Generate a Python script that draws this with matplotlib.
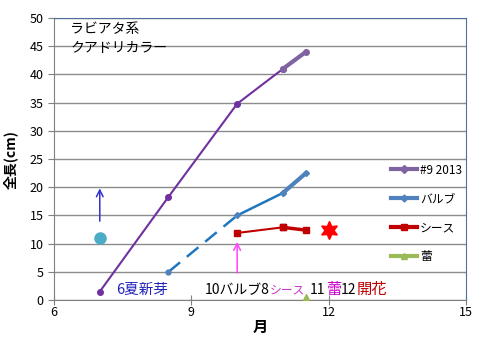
import matplotlib
matplotlib.use("Agg")
import matplotlib.pyplot as plt
from matplotlib.lines import Line2D

plt.rcParams['font.family'] = ['Noto Sans CJK JP', 'DejaVu Sans']

# data
month_total = [7.0, 8.5, 10.0, 11.0, 11.5]
total_len = [1.5, 18.3, 34.8, 41.0, 44.0]
month_bulb = [8.5, 10.0, 11.0, 11.5]
bulb_len = [5.0, 15.0, 19.0, 22.5]
month_sheath = [10.0, 11.0, 11.5]
sheath_len = [11.9, 12.9, 12.4]
month_bud = [11.5]
bud_len = [0.5]
flower_month, flower_val = 12.0, 12.4
newshoot_month, newshoot_val = 7.0, 11.0
xticks = [6, 9, 12, 15]
yticks = list(range(0, 51, 5))

c_total = '#7030A0'
c_total_l = '#8064A2'
c_bulb = '#1F77C0'
c_bulb_l = '#4F81BD'
c_sheath = '#C00000'
c_bud = '#9BBB59'

fig = plt.figure(figsize=(4.82, 3.41), dpi=100)
ax = fig.add_axes([0.112, 0.12, 0.855, 0.827])
ax.set_xlim(6, 15)
ax.set_ylim(0, 50)
ax.set_xticks(xticks)
ax.set_yticks(yticks)
ax.yaxis.grid(True, color='#8c8c8c', linewidth=1)
ax.set_axisbelow(True)
for s in ['top', 'right']:
    ax.spines[s].set_color('#4F6F9F')
for s in ['left', 'bottom']:
    ax.spines[s].set_color('#808080')
ax.tick_params(labelsize=9, length=4, color='#808080', direction='out')
ax.tick_params(axis='x', direction='inout', length=7, pad=1)

# total length series
ax.plot(month_total[:-1], total_len[:-1], color=c_total, lw=1.5, marker='o', ms=4, zorder=3)
ax.plot(month_total[-2:], total_len[-2:], color=c_total_l, lw=3, marker='o', ms=4, zorder=3)

# bulb series
ax.plot(month_bulb[:2], bulb_len[:2], color=c_bulb, lw=1.8, dashes=(6, 3.5), zorder=3)
ax.plot(month_bulb[:1], bulb_len[:1], color=c_bulb_l, marker='o', ms=3.5, ls='none', zorder=3)
ax.plot(month_bulb[1:3], bulb_len[1:3], color=c_bulb, lw=1.8, marker='D', ms=3, mfc=c_bulb_l, mec=c_bulb_l, zorder=3)
ax.plot(month_bulb[2:], bulb_len[2:], color=c_bulb_l, lw=3, marker='D', ms=3, zorder=3)

# sheath series
ax.plot(month_sheath[:2], sheath_len[:2], color=c_sheath, lw=1.5, marker='s', ms=4.5, zorder=3)
ax.plot(month_sheath[1:], sheath_len[1:], color=c_sheath, lw=2.5, marker='s', ms=4.5, zorder=3)

# bud
ax.plot(month_bud, bud_len, color=c_bud, marker='^', ms=5, ls='none', zorder=3)

# flower star
ax.plot([flower_month], [flower_val], marker=(6, 1, 0), ms=13, color='#FF0000', ls='none', zorder=4)

# new shoot circle
ax.plot([newshoot_month], [newshoot_val], marker='o', ms=8, color='#4BACC6', ls='none', zorder=4)

# arrows
ax.annotate('', xy=(7.0, 20.3), xytext=(7.0, 13.5),
            arrowprops=dict(arrowstyle='->', color='#3333CC', lw=1.1, mutation_scale=12))
ax.annotate('', xy=(10.0, 10.8), xytext=(10.0, 4.3),
            arrowprops=dict(arrowstyle='->', color='#FF44FF', lw=1.1, mutation_scale=12))

# texts
ax.text(0.04, 0.985, 'ラビアタ系\nクアドリカラー', transform=ax.transAxes, ha='left', va='top',
        fontsize=10, linespacing=1.45)

ty = 1.8
t = ax.text(7.35, ty, '6夏新芽', color='#2222BB', fontsize=10.5, va='center', ha='left')
fig.canvas.draw()
r = fig.canvas.get_renderer()

def after(prev, s, color, size, gap=0.0):
    bb = prev.get_window_extent(r)
    x = ax.transData.inverted().transform((bb.x1 + gap, 0))[0]
    tt = ax.text(x, ty, s, color=color, fontsize=size, va='center', ha='left')
    fig.canvas.draw()
    return tt

t2 = ax.text(9.30, ty, '10バルブ8', color='black', fontsize=10, va='center', ha='left')
fig.canvas.draw()
t3 = after(t2, 'シース', '#CC33CC', 8.5)
t4 = after(t3, '11', 'black', 10, gap=5)
t5 = after(t4, '蕾', '#CC00CC', 11)
t6 = after(t5, '12', 'black', 10)
t7 = after(t6, '開花', '#C00000', 11)

ax.set_xlabel('月', fontsize=11, fontweight='bold', labelpad=0)
ax.set_ylabel('全長(cm)', fontsize=10, fontweight='bold', labelpad=8)

handles = [
    Line2D([], [], color=c_total_l, lw=3, marker='D', ms=4),
    Line2D([], [], color=c_bulb_l, lw=3, marker='D', ms=3.5),
    Line2D([], [], color=c_sheath, lw=3, marker='s', ms=4),
    Line2D([], [], color=c_bud, lw=3, marker='^', ms=4),
]
labels = ['#9 2013', 'バルブ', 'シース', '蕾']
fig.legend(handles, labels, loc='upper left', bbox_to_anchor=(380 / 482, 1 - 153 / 341),
           frameon=False, fontsize=8.5, handlelength=2.2, labelspacing=1.35,
           handletextpad=0.3)

fig.savefig('out.png', dpi=100)
